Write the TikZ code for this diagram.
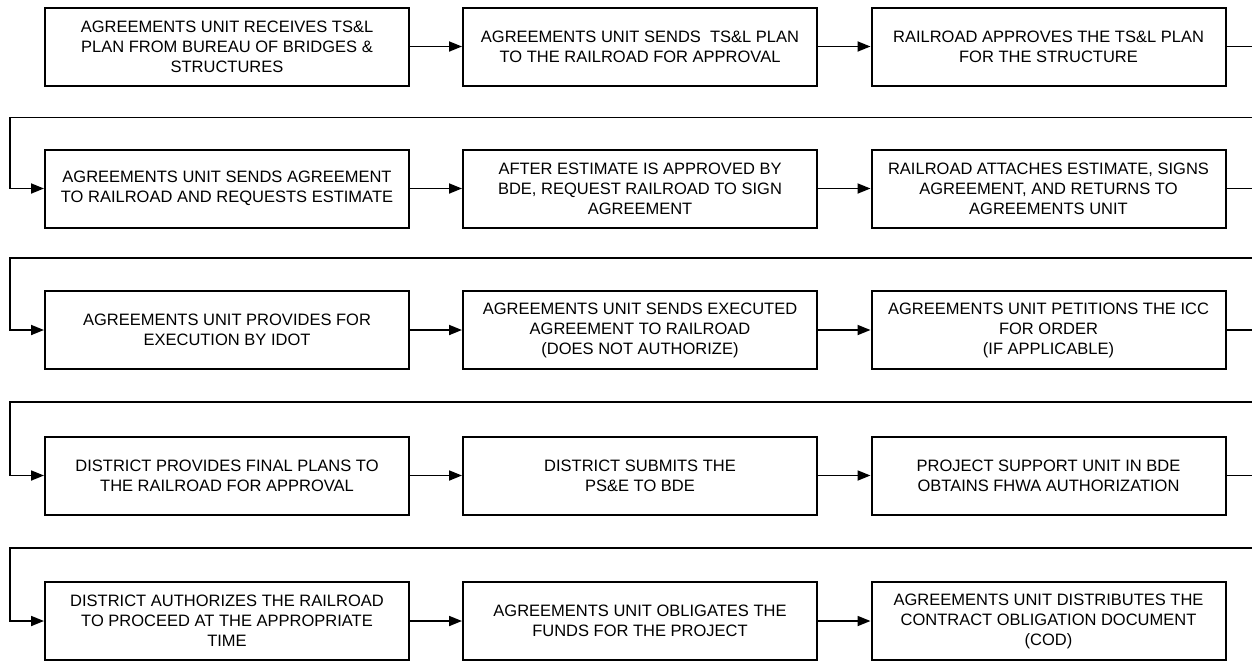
\documentclass[tikz,border=0pt]{standalone}
\usepackage{fontspec}
\setmainfont{Liberation Sans}
\usetikzlibrary{arrows.meta}
\tikzset{
stepbox/.style={draw, line width=2pt, minimum width=354pt, minimum height=78pt, inner sep=0pt, align=center, font=\fontsize{16.5}{20}\selectfont},
flow/.style={line width=1.8pt, -{Triangle[length=13pt,width=10pt]}},
wire/.style={line width=1.8pt}
}
\begin{document}
\begin{tikzpicture}[x=1pt,y=-1pt]
\useasboundingbox (0,0) rectangle (1252,662);
\coordinate (edge) at (1252,0);
\coordinate (rail) at (10,0);
% row 1
\node[stepbox, minimum width=364pt] (a1) at (227,46.5) {AGREEMENTS UNIT RECEIVES TS\&L\\PLAN FROM BUREAU OF BRIDGES \&\\STRUCTURES};
\node[stepbox] (a2) at (640,46.5) {AGREEMENTS UNIT SENDS \ TS\&L PLAN\\TO THE RAILROAD FOR APPROVAL};
\node[stepbox] (a3) at (1048.5,46.5) {RAILROAD APPROVES THE TS\&L PLAN\\FOR THE STRUCTURE};
% row 2
\node[stepbox, minimum width=364pt] (b1) at (227,188.5) {AGREEMENTS UNIT SENDS AGREEMENT\\TO RAILROAD AND REQUESTS ESTIMATE};
\node[stepbox] (b2) at (640,188.5) {AFTER ESTIMATE IS APPROVED BY\\BDE, REQUEST RAILROAD TO SIGN\\AGREEMENT};
\node[stepbox] (b3) at (1048.5,188.5) {RAILROAD ATTACHES ESTIMATE, SIGNS\\AGREEMENT, AND RETURNS TO\\AGREEMENTS UNIT};
% row 3
\node[stepbox, minimum width=364pt] (c1) at (227,330) {AGREEMENTS UNIT PROVIDES FOR\\EXECUTION BY IDOT};
\node[stepbox] (c2) at (640,330) {AGREEMENTS UNIT SENDS EXECUTED\\AGREEMENT TO RAILROAD\\(DOES NOT AUTHORIZE)};
\node[stepbox] (c3) at (1048.5,330) {AGREEMENTS UNIT PETITIONS THE ICC\\FOR ORDER\\(IF APPLICABLE)};
% row 4
\node[stepbox, minimum width=364pt] (d1) at (227,475.5) {DISTRICT PROVIDES FINAL PLANS TO\\THE RAILROAD FOR APPROVAL};
\node[stepbox] (d2) at (640,475.5) {DISTRICT SUBMITS THE\\PS\&E TO BDE};
\node[stepbox] (d3) at (1048.5,475.5) {PROJECT SUPPORT UNIT IN BDE\\OBTAINS FHWA AUTHORIZATION};
% row 5
\node[stepbox, minimum width=364pt] (e1) at (227,621) {DISTRICT AUTHORIZES THE RAILROAD\\TO PROCEED AT THE APPROPRIATE\\TIME};
\node[stepbox] (e2) at (640,621) {AGREEMENTS UNIT OBLIGATES THE\\FUNDS FOR THE PROJECT};
\node[stepbox] (e3) at (1048.5,621) {AGREEMENTS UNIT DISTRIBUTES THE\\CONTRACT OBLIGATION DOCUMENT\\(COD)};
% arrows inside rows
\draw[flow] (a1) -- (a2); \draw[flow] (a2) -- (a3);
\draw[flow] (b1) -- (b2); \draw[flow] (b2) -- (b3);
\draw[flow] (c1) -- (c2); \draw[flow] (c2) -- (c3);
\draw[flow] (d1) -- (d2); \draw[flow] (d2) -- (d3);
\draw[flow] (e1) -- (e2); \draw[flow] (e2) -- (e3);
% wrap to next row
\coordinate (s1) at (1252,117.5);
\coordinate (s2) at (1252,258);
\coordinate (s3) at (1252,402);
\coordinate (s4) at (1252,548);
\draw[wire] (a3.east) -- (a3.east -| edge); %row 1
\draw[flow] (s1) -- (s1 -| rail) |- (b1.west);
\draw[wire] (b3.east) -- (b3.east -| edge); %row 2
\draw[flow] (s2) -- (s2 -| rail) |- (c1.west);
\draw[wire] (c3.east) -- (c3.east -| edge); %row 3
\draw[flow] (s3) -- (s3 -| rail) |- (d1.west);
\draw[wire] (d3.east) -- (d3.east -| edge); %row 4
\draw[flow] (s4) -- (s4 -| rail) |- (e1.west);
\end{tikzpicture}
\end{document}
